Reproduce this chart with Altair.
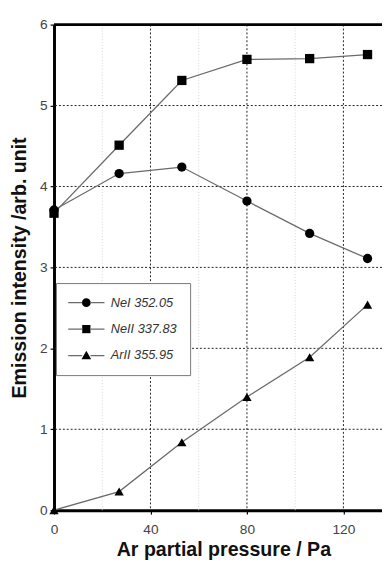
import altair as alt
import pandas as pd

pressure = [0, 27, 53, 80, 106, 130]
nei = [3.71, 4.16, 4.24, 3.82, 3.42, 3.11]
neii = [3.67, 4.51, 5.31, 5.57, 5.58, 5.63]
arii = [0.0, 0.23, 0.84, 1.40, 1.89, 2.54]
series = ["NeI 352.05", "NeII 337.83", "ArII 355.95"]
x_ticks = [0, 40, 80, 120]
y_ticks = [0, 1, 2, 3, 4, 5, 6]
x_grid = [40, 80, 120]
y_grid = [1, 2, 3, 4, 5]
minor_x = [20, 60, 100]
top_y = [6]

rows = []
for name, vals in zip(series, [nei, neii, arii]):
    for p, v in zip(pressure, vals):
        rows.append({"series": name, "p": p, "v": v})
df = pd.DataFrame(rows)

FONT = "Liberation Sans"

x_enc = alt.X(
    "p:Q",
    scale=alt.Scale(domain=[0, 136], nice=False, zero=False),
    axis=alt.Axis(
        values=x_ticks, title="Ar partial pressure / Pa", grid=False,
        labelFlush=False,
        domainColor="black", domainWidth=3, tickColor="black", tickSize=4, tickWidth=1.2,
        labelFont=FONT, labelFontSize=14, labelColor="#444", labelPadding=9,
        titleFont=FONT, titleFontSize=20, titleFontWeight="bold", titleColor="#111",
        titlePadding=3, titleX=173,
    ),
)
y_enc = alt.Y(
    "v:Q",
    scale=alt.Scale(domain=[0, 6], nice=False),
    axis=alt.Axis(
        values=y_ticks, title="Emission intensity /arb. unit", grid=False,
        labelFlush=False,
        domainColor="black", domainWidth=3, tickColor="black", tickSize=4, tickWidth=1.2,
        labelFont=FONT, labelFontSize=14, labelColor="#444", labelPadding=3,
        titleFont=FONT, titleFontSize=20, titleFontWeight="bold", titleColor="#111",
        titlePadding=10,
    ),
)

minor = alt.Chart(pd.DataFrame({"p": minor_x})).mark_rule(
    color="#d4d4d4", strokeDash=[1, 2], strokeWidth=1
).encode(x=x_enc)

xgrid = alt.Chart(pd.DataFrame({"p": x_grid})).mark_rule(
    color="#222", strokeDash=[2, 2], strokeWidth=1
).encode(x=x_enc)

ygrid = alt.Chart(pd.DataFrame({"v": y_grid})).mark_rule(
    color="#222", strokeDash=[2, 2], strokeWidth=1
).encode(y=y_enc)

top = alt.Chart(pd.DataFrame({"v": top_y})).mark_rule(
    color="black", strokeWidth=3
).encode(y=y_enc)

lines = alt.Chart(df).mark_line(color="#6a6a6a", strokeWidth=1.3).encode(
    x=x_enc, y=y_enc, detail="series:N"
)

points = alt.Chart(df).mark_point(filled=True, color="black", size=90, opacity=1).encode(
    x=x_enc, y=y_enc,
    shape=alt.Shape("series:N", scale=alt.Scale(domain=series, range=["circle", "square", "triangle-up"]), legend=None),
)

# legend symbols (unit = 7 px): markers, and separate gray line segments
marker_paths = [
    "M0.64,0A0.64,0.64,0,1,1,-0.64,0A0.64,0.64,0,1,1,0.64,0Z",
    "M-0.6,-0.6H0.6V0.6H-0.6Z",
    "M0,-0.7L0.7,0.55H-0.7Z",
]
seg = "M-2.64,-0.09H-0.6V0.09H-2.64ZM0.6,-0.09H2.64V0.09H0.6Z"
line_paths = [seg, seg, seg]

common = dict(
    title=None, orient="none", legendX=2, legendY=264, padding=13,
    labelFont=FONT, labelFontStyle="italic", labelFontSize=13,
    symbolSize=196, symbolOffset=11, labelOffset=18, rowPadding=13,
    symbolOpacity=1, symbolStrokeWidth=0,
)

legend_markers = alt.Chart(pd.DataFrame({"series": series})).mark_point(
    filled=True, color="black"
).encode(
    shape=alt.Shape(
        "series:N", scale=alt.Scale(domain=series, range=marker_paths),
        legend=alt.Legend(fillColor="white", strokeColor="#777", labelColor="#333",
                          zindex=1, **common),
    )
).transform_filter("false")

legend_lines = alt.Chart(pd.DataFrame({"series": series})).mark_point(
    filled=True, color="#6a6a6a"
).encode(
    shape=alt.Shape(
        "series:N", scale=alt.Scale(domain=series, range=line_paths),
        legend=alt.Legend(labelExpr="''", labelColor="#333", zindex=2, **common),
    )
).transform_filter("false")

chart = alt.layer(
    minor, xgrid, ygrid, top, lines, points, legend_markers, legend_lines
).resolve_scale(
    shape="independent"
).properties(
    width=335, height=496,
    autosize=alt.AutoSizeParams(type="none"),
    padding={"left": 47, "top": 11, "right": 0, "bottom": 50},
).configure_view(stroke=None)

chart.save("out.html", embed_options={"renderer": "svg", "actions": False})
